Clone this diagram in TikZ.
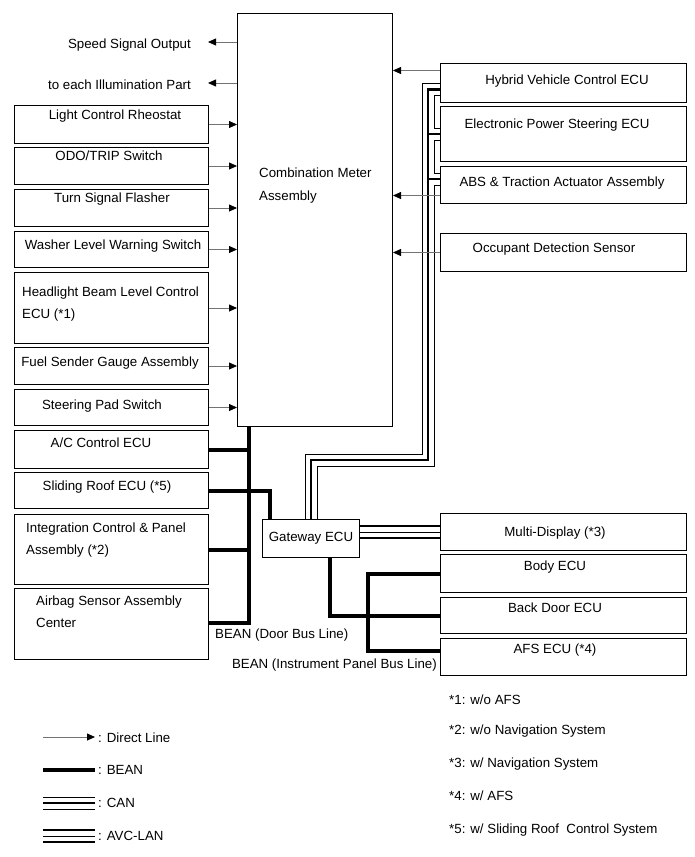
\documentclass[tikz,border=0pt]{standalone}
\usepackage{fontspec}
\setmainfont{Liberation Sans}
\usetikzlibrary{arrows.meta}

\begin{document}
\begin{tikzpicture}[x=1pt, y=-1pt,
    box/.style={draw=black, line width=1pt, anchor=north west, inner sep=0pt,
        font=\fontsize{13.3}{16}\selectfont},
    lbl/.style={font=\fontsize{13.3}{16}\selectfont, inner sep=0pt, anchor=base},
    direct/.style={draw=black!55, line width=0.8pt,
        -{Triangle[length=8pt, width=7pt, color=black]}},
    bean/.style={line width=4pt},
    can/.style={line width=13pt, postaction={draw=white, line width=11pt},
        postaction={draw=black, line width=2.5pt}},
    avc/.style={line width=14.5pt, postaction={draw=white, line width=9.5pt},
        postaction={draw=black, line width=1pt}}
]
    \useasboundingbox (0,0) rectangle (695,857);

    % combination meter
    \node[box, minimum width=155pt, minimum height=413pt] (meter) at (237,13) {};
    \node[lbl, anchor=base west] (meter-t1) at (259,177) {Combination Meter};
    \node[lbl, anchor=base west] (meter-t2) at (259,200) {Assembly};

    % outputs
    \node[lbl, anchor=base east] (speed) at (191,48) {Speed Signal Output};
    \node[lbl, anchor=base east] (illum) at (191,89) {to each Illumination Part};
    \coordinate (speed-end) at (208,42);
    \coordinate (illum-end) at (208,83);

    % left column
    \node[box, minimum width=194pt, minimum height=38pt] (rheo) at (14,105) {};
    \node[box, minimum width=194pt, minimum height=37pt] (odo) at (14,147) {};
    \node[box, minimum width=194pt, minimum height=37pt] (turn) at (14,189) {};
    \node[box, minimum width=194pt, minimum height=36pt] (washer) at (14,231) {};
    \node[box, minimum width=194pt, minimum height=71pt] (beam) at (14,272) {};
    \node[box, minimum width=194pt, minimum height=37pt] (fuel) at (14,347) {};
    \node[box, minimum width=194pt, minimum height=36pt] (pad) at (14,389) {};
    \node[box, minimum width=194pt, minimum height=38pt] (ac) at (14,430) {};
    \node[box, minimum width=194pt, minimum height=36pt] (roof) at (14,472) {};
    \node[box, minimum width=194pt, minimum height=70pt] (integ) at (14,514) {};
    \node[box, minimum width=194pt, minimum height=71pt] (airbag) at (14,588) {};

    \node[lbl] (rheo-t) at (115,119) {Light Control Rheostat};
    \node[lbl] (odo-t) at (109,160) {ODO/TRIP Switch};
    \node[lbl] (turn-t) at (112,202) {Turn Signal Flasher};
    \node[lbl] (washer-t) at (113,249) {Washer Level Warning Switch};
    \node[lbl, anchor=base west] (beam-t1) at (22,296) {Headlight Beam Level Control};
    \node[lbl, anchor=base west] (beam-t2) at (22,318) {ECU (*1)};
    \node[lbl] (fuel-t) at (110,366) {Fuel Sender Gauge Assembly};
    \node[lbl] (pad-t) at (102,409) {Steering Pad Switch};
    \node[lbl] (ac-t) at (101,447) {A/C Control ECU};
    \node[lbl] (roof-t) at (107,490) {Sliding Roof ECU (*5)};
    \node[lbl, anchor=base west] (integ-t1) at (26,532) {Integration Control \& Panel};
    \node[lbl, anchor=base west] (integ-t2) at (26,554) {Assembly (*2)};
    \node[lbl, anchor=base west] (airbag-t1) at (36,605) {Airbag Sensor Assembly};
    \node[lbl, anchor=base west] (airbag-t2) at (36,627) {Center};

    % right column
    \node[box, minimum width=246pt, minimum height=39pt] (hyb) at (440,63) {};
    \node[box, minimum width=246pt, minimum height=55pt] (eps) at (440,106) {};
    \node[box, minimum width=246pt, minimum height=37pt] (abs) at (440,166) {};
    \node[box, minimum width=246pt, minimum height=38pt] (occ) at (440,233) {};
    \node[box, minimum width=246pt, minimum height=37pt] (mdisp) at (440,513) {};
    \node[box, minimum width=246pt, minimum height=38pt] (body) at (440,554) {};
    \node[box, minimum width=246pt, minimum height=36pt] (back) at (440,597) {};
    \node[box, minimum width=246pt, minimum height=37pt] (afs) at (440,638) {};

    \node[lbl] (hyb-t) at (567,84) {Hybrid Vehicle Control ECU};
    \node[lbl] (eps-t) at (557,128) {Electronic Power Steering ECU};
    \node[lbl] (abs-t) at (562,186) {ABS \& Traction Actuator Assembly};
    \node[lbl] (occ-t) at (554,252) {Occupant Detection Sensor};
    \node[lbl] (mdisp-t) at (555,536) {Multi-Display (*3)};
    \node[lbl] (body-t) at (555,570) {Body ECU};
    \node[lbl] (back-t) at (555,612) {Back Door ECU};
    \node[lbl] (afs-t) at (555,653) {AFS ECU (*4)};

    % gateway
    \node[box, minimum width=97pt, minimum height=38pt] (gw) at (262,519) {Gateway ECU};

    % BEAN door bus
    \coordinate (door-bus) at (249,623);
    \draw[bean] (meter.south -| door-bus) -- (door-bus) -- (airbag.east |- door-bus)
        (ac.east) -- (ac.east -| door-bus)
        (integ.east) -- (integ.east -| door-bus)
        (roof.east) -| ([xshift=8pt]gw.north west);
    \node[lbl, anchor=base west] (door-bus-t) at (215,638) {BEAN (Door Bus Line)};

    % BEAN instrument panel bus
    \coordinate (ip-drop) at (330,613);
    \coordinate (ip-bus) at (368,651);
    \draw[bean] (gw.south -| ip-drop) |- (back.west)
        (body.west) -| (ip-bus) -- (afs.west |- ip-bus);
    \node[lbl, anchor=base east] (ip-bus-t) at (437,668) {BEAN (Instrument Panel Bus Line)};

    % CAN
    \coordinate (can-turn) at (428,460);
    \coordinate (hyb-can) at ([yshift=-6.5pt]hyb.west);
    \coordinate (abs-can) at ([yshift=6pt]abs.west);
    \draw[can] (gw.north) |- (can-turn) |- (hyb-can)
        (can-turn |- eps.west) -- (eps.west)
        (can-turn |- abs-can) -- (abs-can);

    % AVC-LAN
    \draw[avc] (gw.east |- mdisp.west) -- (mdisp.west);

    % direct lines
    \draw[direct] (meter.west |- speed-end) -- (speed-end);
    \draw[direct] (meter.west |- illum-end) -- (illum-end);
    \draw[direct] (rheo.east) -- (rheo.east -| meter.west);
    \draw[direct] (odo.east) -- (odo.east -| meter.west);
    \draw[direct] (turn.east) -- (turn.east -| meter.west);
    \draw[direct] (washer.east) -- (washer.east -| meter.west);
    \draw[direct] (beam.east) -- (beam.east -| meter.west);
    \draw[direct] (fuel.east) -- (fuel.east -| meter.west);
    \draw[direct] (pad.east) -- (pad.east -| meter.west);
    \coordinate (hyb-out) at ([yshift=12.5pt]hyb.west);
    \coordinate (abs-out) at ([yshift=-10.5pt]abs.west);
    \draw[direct] (hyb-out) -- (hyb-out -| meter.east);
    \draw[direct] (abs-out) -- (abs-out -| meter.east);
    \draw[direct] (occ.west) -- (occ.west -| meter.east);

    % notes
    \node[lbl, anchor=base west] (note1) at (449,704) {*1: w/o AFS};
    \node[lbl, anchor=base west] (note2) at (449,734) {*2: w/o Navigation System};
    \node[lbl, anchor=base west] (note3) at (449,767) {*3: w/ Navigation System};
    \node[lbl, anchor=base west] (note4) at (449,800) {*4: w/ AFS};
    \node[lbl, anchor=base west] (note5) at (449,833) {*5: w/ Sliding Roof~ Control System};

    % legend
    \coordinate (lg-direct-a) at (43,737);
    \coordinate (lg-direct-b) at (95,737);
    \coordinate (lg-bean-a) at (43,770);
    \coordinate (lg-bean-b) at (95,770);
    \coordinate (lg-can-a) at (43,803);
    \coordinate (lg-can-b) at (95,803);
    \coordinate (lg-avc-a) at (43,836);
    \coordinate (lg-avc-b) at (95,836);
    \draw[direct] (lg-direct-a) -- (lg-direct-b);
    \draw[bean] (lg-bean-a) -- (lg-bean-b);
    \draw[can] (lg-can-a) -- (lg-can-b);
    \draw[avc] (lg-avc-a) -- (lg-avc-b);
    \node[lbl, anchor=base west] (lg-direct-t) at (98,742) {: Direct Line};
    \node[lbl, anchor=base west] (lg-bean-t) at (98,774) {: BEAN};
    \node[lbl, anchor=base west] (lg-can-t) at (98,807) {: CAN};
    \node[lbl, anchor=base west] (lg-avc-t) at (98,840) {: AVC-LAN};
\end{tikzpicture}
\end{document}
